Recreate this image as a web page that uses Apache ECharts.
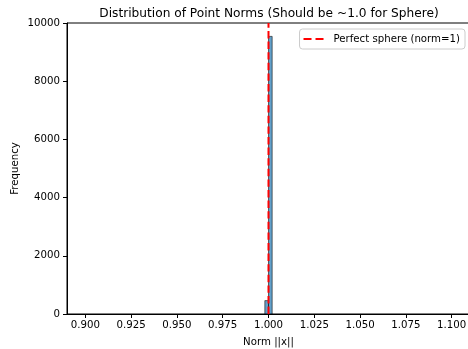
<!DOCTYPE html>
<html>
<head>
<meta charset="utf-8">
<script src="https://cdn.jsdelivr.net/npm/echarts@6/dist/echarts.min.js"></script>
<style>
html,body{margin:0;padding:0;background:#fff;}
#chart{width:468px;height:349px;}
</style>
</head>
<body>
<div id="chart"></div>
<script>
// Histogram bins (only non-empty bins shown)
var binStarts = [0.998, 1.000];
var binEnds = [1.000, 1.002];
var counts = [460, 9540];
// Reference line
var refX = 1.0;
var refLabel = 'Perfect sphere (norm=1)';
// Tick labels
var xTicks = [0.900, 0.925, 0.950, 0.975, 1.000, 1.025, 1.050, 1.075, 1.100];
var yTicks = [0, 2000, 4000, 6000, 8000, 10000];

var FONT = 'DejaVu Sans';
var histData = binStarts.map(function (s, i) { return [s, binEnds[i], counts[i]]; });

var chart = echarts.init(document.getElementById('chart'), null, {renderer: 'canvas'});
chart.setOption({
  animation: false,
  backgroundColor: '#fff',
  title: {
    text: 'Distribution of Point Norms (Should be ~1.0 for Sphere)',
    left: 269, top: 0, textAlign: 'center',
    padding: [8, 0, 0, 0],
    textStyle: {fontFamily: FONT, fontSize: 12.2, fontWeight: 'normal', color: '#000'}
  },
  legend: {
    data: [{name: refLabel, icon: 'path://M0,0H8V2H0Z M12,0H20V2H12Z'}],
    right: 3, top: 29,
    orient: 'vertical',
    itemWidth: 20, itemHeight: 2, itemGap: 4,
    padding: [5, 5, 5, 4],
    borderColor: '#ccc', borderWidth: 1, borderRadius: 3,
    backgroundColor: 'rgba(255,255,255,0.8)',
    textStyle: {fontFamily: FONT, fontSize: 10.2, color: '#000', padding: [0, 0, 0, 5]}
  },
  grid: {
    left: 67, top: 23, width: 403, height: 291,
    show: true, borderColor: '#000', borderWidth: 1, backgroundColor: 'transparent',
    containLabel: false,
    outerBoundsMode: 'none'
  },
  xAxis: {
    type: 'value', min: 0.89, max: 1.11,
    name: 'Norm ||x||', nameLocation: 'middle', nameGap: 23, nameMoveOverlap: false,
    nameTextStyle: {fontFamily: FONT, fontSize: 10.2, color: '#000'},
    axisLine: {show: true, onZero: false, lineStyle: {color: '#000', width: 1}},
    axisTick: {show: true, inside: false, length: 4, customValues: xTicks, lineStyle: {color: '#000', width: 1}},
    axisLabel: {customValues: xTicks, margin: 6, fontFamily: FONT, fontSize: 10.2, color: '#000',
      formatter: function (v) { return v.toFixed(3); }},
    splitLine: {show: false}
  },
  yAxis: {
    type: 'value', min: 0, max: 10000, interval: 2000,
    name: 'Frequency', nameLocation: 'middle', nameGap: 47, nameRotate: 90, nameMoveOverlap: false,
    nameTextStyle: {fontFamily: FONT, fontSize: 10.2, color: '#000'},
    axisLine: {show: true, lineStyle: {color: '#000', width: 1}},
    axisTick: {show: true, inside: false, length: 4, lineStyle: {color: '#000', width: 1}},
    axisLabel: {margin: 7, fontFamily: FONT, fontSize: 10.2, color: '#000',
      customValues: yTicks,
      formatter: function (v) { return String(v); }},
    splitLine: {show: false}
  },
  series: [
    {
      type: 'custom',
      name: 'hist',
      data: histData,
      encode: {x: [0, 1], y: 2},
      renderItem: function (params, api) {
        var p0 = api.coord([api.value(0), api.value(2)]);
        var p1 = api.coord([api.value(1), 0]);
        return {
          type: 'rect',
          shape: {x: p0[0], y: p0[1], width: p1[0] - p0[0], height: p1[1] - p0[1]},
          style: {fill: 'rgba(31,119,180,0.7)', stroke: 'rgba(0,0,0,0.7)', lineWidth: 0.8}
        };
      },
      z: 2
    },
    {
      type: 'line',
      name: refLabel,
      data: [[refX, 0], [refX, 10000]],
      symbol: 'none',
      lineStyle: {color: '#ff0000', width: 2, type: [7.4, 3.2]},
      itemStyle: {color: '#ff0000'},
      z: 3
    }
  ]
});
</script>
</body>
</html>
